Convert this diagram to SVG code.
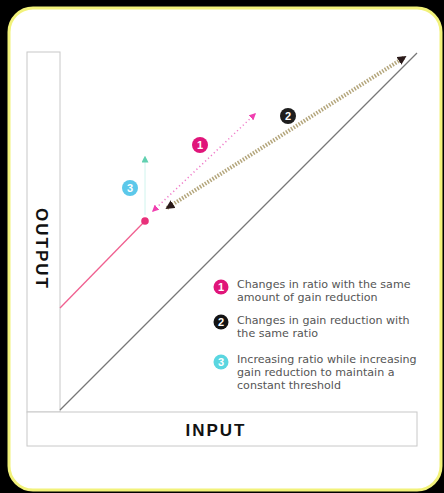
<svg xmlns="http://www.w3.org/2000/svg" width="444" height="493" viewBox="0 0 444 493">
<style>
.axisbox{fill:#fff;stroke:#c8c8c8;stroke-width:1}
.axislabel{font-family:"Liberation Sans",Arial,sans-serif;font-weight:bold;font-size:17px;fill:#111;letter-spacing:2px}
.leg{font-family:"DejaVu Sans","Liberation Sans",sans-serif;font-size:11.1px;fill:#555}
.num{font-family:"Liberation Sans",Arial,sans-serif;font-weight:bold;font-size:11px;fill:#fff;text-anchor:middle}
</style>
<defs>
<marker id="mPink" viewBox="0 0 10 10" refX="8" refY="5" markerWidth="7" markerHeight="7" markerUnits="userSpaceOnUse" orient="auto-start-reverse"><path d="M0,0 L10,5 L0,10 z" fill="#f040b0"/></marker>
<marker id="mDark" viewBox="0 0 10 10" refX="8" refY="5" markerWidth="9" markerHeight="9" markerUnits="userSpaceOnUse" orient="auto-start-reverse"><path d="M0,0 L10,5 L0,10 z" fill="#2a1a1a"/></marker>
<marker id="mTeal" viewBox="0 0 10 10" refX="8" refY="5" markerWidth="7" markerHeight="7" markerUnits="userSpaceOnUse" orient="auto"><path d="M0,0 L10,5 L0,10 z" fill="#60d0b0"/></marker>
</defs>
<rect x="0" y="0" width="444" height="493" fill="#000"/>
<rect x="9" y="8" width="432" height="482" rx="24" fill="#fff" stroke="#f2f27a" stroke-width="3"/>
<g id="axis-output">
<rect class="axisbox" x="27" y="52" width="33" height="360"/>
<text class="axislabel" transform="translate(36,208) rotate(90)">OUTPUT</text>
</g>
<g id="axis-input">
<rect class="axisbox" x="27" y="412" width="390" height="34"/>
<text class="axislabel" x="216" y="436" text-anchor="middle">INPUT</text>
</g>
<g id="connectors">
<line x1="60" y1="410" x2="417" y2="53" stroke="#777" stroke-width="1.3"/>
<line x1="60" y1="308" x2="145" y2="221" stroke="#f06090" stroke-width="1.3"/>
<line x1="145" y1="215" x2="145" y2="157" stroke="#d0f4ee" stroke-width="1" marker-end="url(#mTeal)"/>
<line x1="153" y1="211" x2="255" y2="114" stroke="#f07ac8" stroke-width="1.5" stroke-dasharray="1.2 2.8" marker-start="url(#mPink)" marker-end="url(#mPink)"/>
<line x1="167" y1="208" x2="405" y2="57" stroke="#b4a67c" stroke-width="4" stroke-dasharray="1.5 1.5" marker-start="url(#mDark)" marker-end="url(#mDark)"/>
<circle cx="145" cy="221" r="3.8" fill="#e8307a"/>
</g>
<g id="badge-1"><circle cx="200" cy="145" r="8" fill="#e0157a"/><text class="num" x="200" y="149">1</text></g>
<g id="badge-2"><circle cx="288" cy="116" r="8" fill="#1e1e1e"/><text class="num" x="288" y="120">2</text></g>
<g id="badge-3"><circle cx="130" cy="188" r="8" fill="#5cc8ea"/><text class="num" x="130" y="192">3</text></g>
<g id="legend-1">
<circle cx="221" cy="287" r="7.5" fill="#e0157a"/><text class="num" x="221" y="291">1</text>
<text class="leg" x="237" y="288">Changes in ratio with the same</text>
<text class="leg" x="237" y="301">amount of gain reduction</text>
</g>
<g id="legend-2">
<circle cx="221" cy="322" r="7.5" fill="#141414"/><text class="num" x="221" y="326">2</text>
<text class="leg" x="237" y="324">Changes in gain reduction with</text>
<text class="leg" x="237" y="337">the same ratio</text>
</g>
<g id="legend-3">
<circle cx="221" cy="362" r="7.5" fill="#5ad6e0"/><text class="num" x="221" y="366">3</text>
<text class="leg" x="237" y="363">Increasing ratio while increasing</text>
<text class="leg" x="237" y="376">gain reduction to maintain a</text>
<text class="leg" x="237" y="389">constant threshold</text>
</g>
</svg>
